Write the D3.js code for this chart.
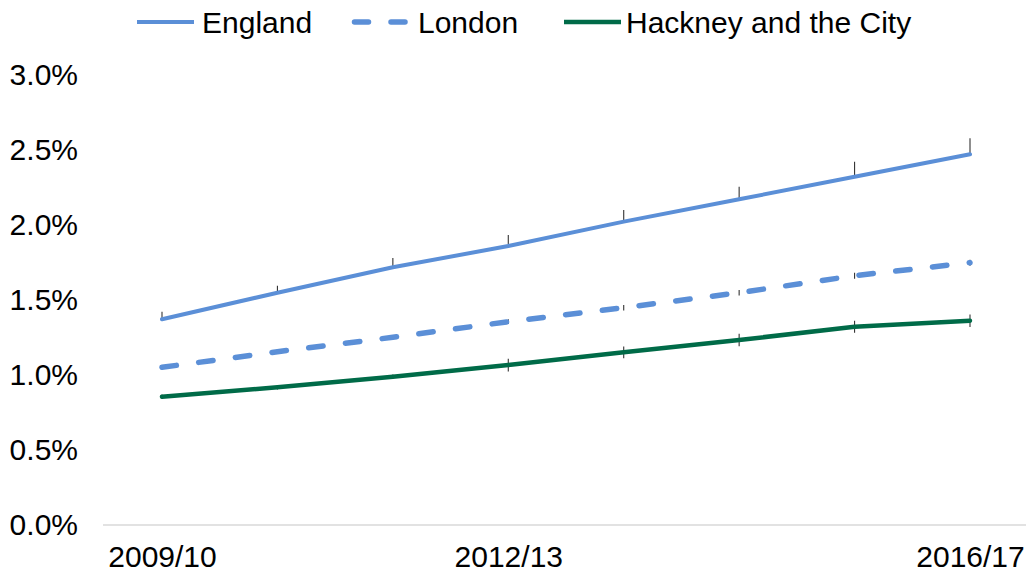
<!DOCTYPE html>
<html>
<head>
<meta charset="utf-8">
<script src="https://cdn.jsdelivr.net/npm/d3@7"></script>
<style>
  html, body { margin: 0; padding: 0; background: #fff; }
  svg { display: block; font-family: "Liberation Sans", Arial, sans-serif; }
</style>
</head>
<body>
<svg id="chart" width="1026" height="573"></svg>
<script>
// Financial years on the x axis
const years = ["2009/10", "2010/11", "2011/12", "2012/13", "2013/14", "2014/15", "2015/16", "2016/17"];
const yearLabels = ["2009/10", "2012/13", "2016/17"];

// Prevalence (%) by area
const england = [1.37, 1.547, 1.716, 1.858, 2.02, 2.169, 2.319, 2.469];
const london  = [1.05, 1.154, 1.25, 1.354, 1.447, 1.547, 1.66, 1.747];
const hackney = [0.854, 0.917, 0.988, 1.065, 1.15, 1.232, 1.32, 1.36];

// Confidence interval half-widths (upper / lower), in percentage points
const englandErrUp = [0.05, 0.047, 0.062, 0.073, 0.078, 0.084, 0.10, 0.107];
const englandErrDown = [0, 0, 0, 0, 0, 0, 0, 0];
const londonErrUp = [0.015, 0.015, 0.015, 0.016, 0.018, 0.018, 0.02, 0.02];
const londonErrDown = [0.015, 0.015, 0.015, 0.016, 0.018, 0.018, 0.02, 0.02];
const hackneyErrUp = [0.015, 0.015, 0.015, 0.042, 0.039, 0.041, 0.04, 0.042];
const hackneyErrDown = [0.015, 0.015, 0.015, 0.042, 0.039, 0.041, 0.04, 0.042];

const yTicks = [0, 0.5, 1.0, 1.5, 2.0, 2.5, 3.0];

const seriesNames = ["England", "London", "Hackney and the City"];
const seriesColors = ["#5b8fd7", "#5b8fd7", "#006b48"];

const series = [
  { name: seriesNames[0], values: england, up: englandErrUp, down: englandErrDown, color: seriesColors[0], width: 4, dash: null },
  { name: seriesNames[1], values: london, up: londonErrUp, down: londonErrDown, color: seriesColors[1], width: 5.5, dash: "14.5 22.5" },
  { name: seriesNames[2], values: hackney, up: hackneyErrUp, down: hackneyErrDown, color: seriesColors[2], width: 4.5, dash: null }
];

const svg = d3.select("#chart");

const x = d3.scalePoint().domain(years).range([162, 970]);
const y = d3.scaleLinear().domain([0, 3]).range([525, 74.5]);

// Y axis: labels only
const yAxis = d3.axisLeft(y)
  .tickValues(yTicks)
  .tickFormat(d => d3.format(".1f")(d) + "%")
  .tickSize(0)
  .tickPadding(0);
const gy = svg.append("g").attr("transform", "translate(78,0)").call(yAxis);
gy.select(".domain").remove();
gy.selectAll("text")
  .attr("font-size", 30)
  .attr("font-family", "Liberation Sans, Arial, sans-serif")
  .attr("fill", "#000");

// X axis baseline and labels
svg.append("line")
  .attr("x1", 103).attr("x2", 1026)
  .attr("y1", y(0)).attr("y2", y(0))
  .attr("stroke", "#d9d9d9").attr("stroke-width", 1.5);

const xAxis = d3.axisBottom(x)
  .tickValues(yearLabels)
  .tickSize(0)
  .tickPadding(0);
const gx = svg.append("g").attr("transform", "translate(0,546)").call(xAxis);
gx.select(".domain").remove();
gx.selectAll("text")
  .attr("font-size", 30)
  .attr("font-family", "Liberation Sans, Arial, sans-serif")
  .attr("fill", "#000");

// Error bars (drawn beneath the lines)
series.forEach(s => {
  svg.append("g")
    .selectAll("line")
    .data(s.values)
    .join("line")
    .attr("x1", (d, i) => x(years[i]))
    .attr("x2", (d, i) => x(years[i]))
    .attr("y1", (d, i) => y(d + s.up[i]))
    .attr("y2", (d, i) => y(d - s.down[i]))
    .attr("stroke", "#333")
    .attr("stroke-width", 1.1);
});

// Lines
const line = d3.line()
  .x((d, i) => x(years[i]))
  .y(d => y(d));

series.forEach(s => {
  svg.append("path")
    .datum(s.values)
    .attr("d", line)
    .attr("fill", "none")
    .attr("stroke", s.color)
    .attr("stroke-width", s.width)
    .attr("stroke-linecap", "round")
    .attr("stroke-linejoin", "round")
    .attr("stroke-dasharray", s.dash);
});

// Legend
const legendItems = [
  { x: 137, textX: 202 },
  { x: 352, textX: 418 },
  { x: 564, textX: 626 }
];
const legend = svg.append("g");
series.forEach((s, i) => {
  const it = legendItems[i];
  legend.append("line")
    .attr("x1", it.x).attr("x2", it.x + 57)
    .attr("y1", 22).attr("y2", 22)
    .attr("stroke", s.color)
    .attr("stroke-width", s.width)
    .attr("stroke-linecap", s.dash ? "round" : "butt")
    .attr("stroke-dasharray", s.dash ? "14 22.5" : null)
    .attr("stroke-dashoffset", s.dash ? -2.5 : null);
  legend.append("text")
    .attr("x", it.textX).attr("y", 33)
    .attr("font-size", 30)
    .attr("fill", "#000")
    .text(s.name);
});
</script>
</body>
</html>
